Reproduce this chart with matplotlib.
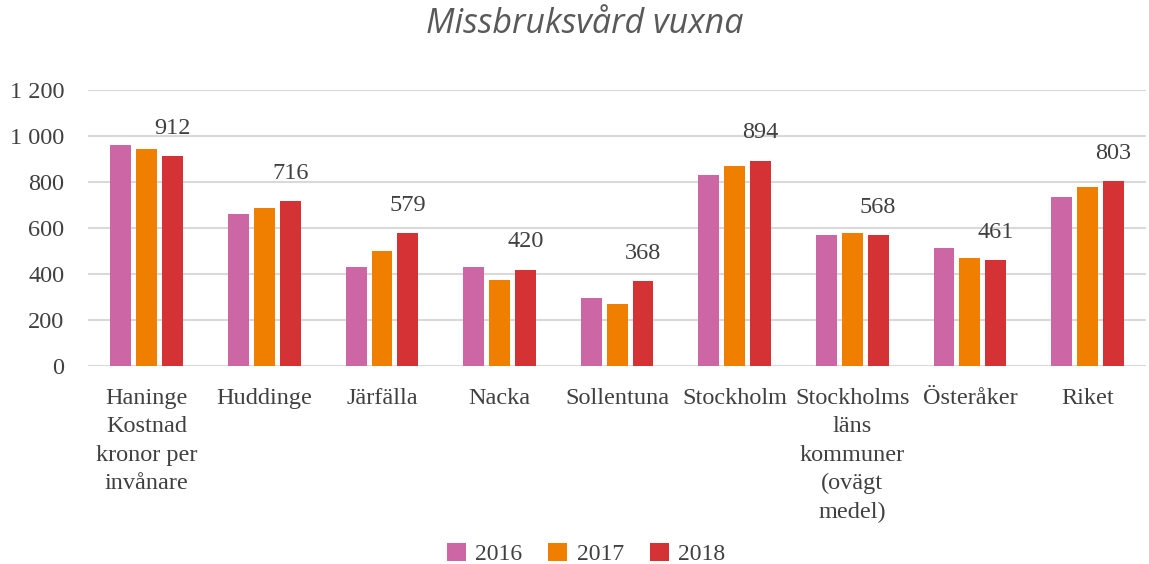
import numpy as np
import matplotlib
matplotlib.use('Agg')
import matplotlib.pyplot as plt

#%% Data
categories = ['Haninge\nKostnad\nkronor per\ninvånare', 'Huddinge', 'Järfälla', 'Nacka',
              'Sollentuna', 'Stockholm', 'Stockholms\nläns\nkommuner\n(ovägt\nmedel)',
              'Österåker', 'Riket']
years = ['2016', '2017', '2018']
v2016 = [961, 661, 430, 430, 296, 830, 570, 513, 735]
v2017 = [943, 687, 500, 374, 270, 872, 578, 470, 778]
v2018 = [912, 716, 579, 420, 368, 894, 568, 461, 803]
colors = ['#CC66A4', '#F07F00', '#D43234']

#%% Plot
fig = plt.figure(figsize=(11.49, 5.64), dpi=100)
ax = fig.add_axes([0.0766, 0.351, 0.921, 0.489])

x = np.arange(len(categories))
w = 0.178
step = 0.22
for i, (vals, yr) in enumerate(zip([v2016, v2017, v2018], years)):
    bars = ax.bar(x + (i - 1) * step, vals, w, color=colors[i], label=yr, zorder=3)
    if yr == '2018':
        for b, v in zip(bars, vals):
            ax.text(b.get_x() + b.get_width() / 2, v + 120, str(v), ha='center', va='center',
                    fontsize=17.5, family='Liberation Serif', color='#404040')

ax.set_xlim(-0.5, len(categories) - 0.5)
ax.set_ylim(0, 1200)
ax.set_yticks(range(0, 1201, 200))
ax.set_yticklabels(['0', '200', '400', '600', '800', '1 000', '1 200'])
ax.set_xticks(x)
ax.set_xticklabels(categories, linespacing=1.45)
for lab in ax.get_xticklabels() + ax.get_yticklabels():
    lab.set_family('Liberation Serif')
    lab.set_fontsize(17.5)
    lab.set_color('#404040')
ax.tick_params(length=0)
ax.tick_params(axis='x', pad=16)
ax.tick_params(axis='y', pad=17)
ax.grid(axis='y', color='#d9d9d9', lw=1.5, zorder=0)
for s in ax.spines.values():
    s.set_visible(False)

fig.text(0.509, 0.957, 'Missbruksvård vuxna', ha='center', va='center', fontsize=24.5,
         style='italic', family='Open Sans', color='#595959')

leg = fig.legend(loc='center', bbox_to_anchor=(0.51, 0.018), ncol=3, frameon=False,
                 prop={'family': 'Liberation Serif', 'size': 17}, handlelength=0.8,
                 handleheight=0.8, columnspacing=1.1, handletextpad=0.4)
for t in leg.get_texts():
    t.set_color('#404040')

fig.savefig('out.png', dpi=100)
